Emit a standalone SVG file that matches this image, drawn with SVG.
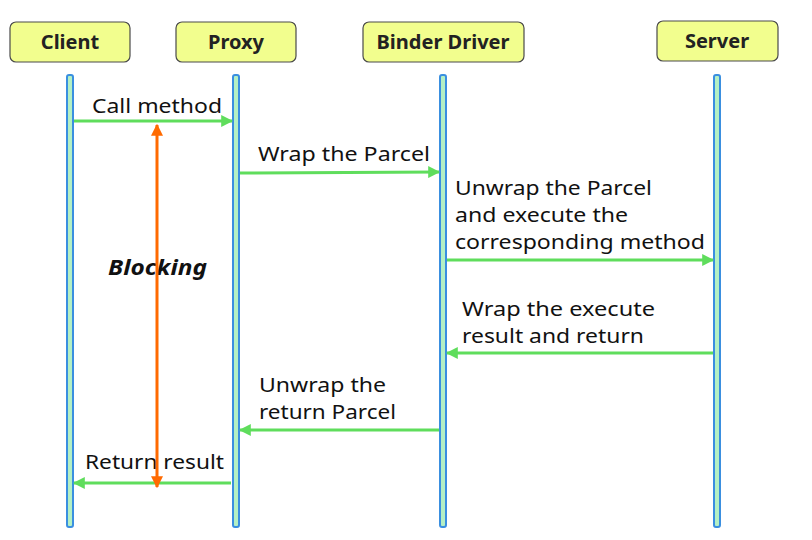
<svg xmlns="http://www.w3.org/2000/svg" width="812" height="540" viewBox="0 0 812 540">
<defs>
<style>
.box{fill:#f2fe8e;stroke:#4a4a4a;stroke-width:1.2}
.title{font-family:"Noto Sans","Liberation Sans",sans-serif;font-weight:bold;font-size:20px;fill:#222;text-anchor:middle}
.life{fill:#b4f0c4;stroke:#3a8fe0;stroke-width:2}
.msg{stroke:#5fdd5c;stroke-width:3;fill:none}
.lbl{font-family:"Noto Sans","Liberation Sans",sans-serif;font-size:20px;fill:#111}
</style>
<marker id="ga" viewBox="0 0 10 10" refX="9" refY="5" markerWidth="4" markerHeight="4" orient="auto" markerUnits="strokeWidth">
<path d="M0,0 L10,5 L0,10 Z" fill="#5fdd5c"/>
</marker>
<marker id="oa" viewBox="0 0 10 10" refX="9" refY="5" markerWidth="4" markerHeight="4.5" orient="auto-start-reverse" markerUnits="strokeWidth">
<path d="M0,0 L10,5 L0,10 Z" fill="#ff6a00"/>
</marker>
</defs>
<rect width="812" height="540" fill="#fff"/>

<g id="client">
<rect class="box" x="10" y="22" width="120" height="40" rx="6"/>
<text class="title" x="70" y="49">Client</text>
<rect class="life" x="67" y="75" width="6" height="452" rx="2"/>
</g>
<g id="proxy">
<rect class="box" x="176" y="22" width="120" height="40" rx="6"/>
<text class="title" x="236" y="49">Proxy</text>
<rect class="life" x="233" y="75" width="6" height="452" rx="2"/>
</g>
<g id="binder">
<rect class="box" x="363" y="22" width="161" height="40" rx="6"/>
<text class="title" x="443" y="49" textLength="133" lengthAdjust="spacingAndGlyphs">Binder Driver</text>
<rect class="life" x="440" y="75" width="6" height="452" rx="2"/>
</g>
<g id="server">
<rect class="box" x="657" y="21" width="121" height="40" rx="6"/>
<text class="title" x="717" y="48">Server</text>
<rect class="life" x="714" y="75" width="6" height="452" rx="2"/>
</g>

<g id="connectors">
<line class="msg" x1="74" y1="121" x2="232" y2="121" marker-end="url(#ga)"/>
<text class="lbl" x="92" y="113" textLength="130" lengthAdjust="spacingAndGlyphs">Call method</text>

<line class="msg" x1="240" y1="173" x2="439" y2="172" marker-end="url(#ga)"/>
<text class="lbl" x="258" y="161" textLength="172" lengthAdjust="spacingAndGlyphs">Wrap the Parcel</text>

<line class="msg" x1="447" y1="260" x2="713" y2="260" marker-end="url(#ga)"/>
<text class="lbl" x="455" y="195" textLength="197" lengthAdjust="spacingAndGlyphs">Unwrap the Parcel</text>
<text class="lbl" x="455" y="222" textLength="173" lengthAdjust="spacingAndGlyphs">and execute the</text>
<text class="lbl" x="455" y="249" textLength="250" lengthAdjust="spacingAndGlyphs">corresponding method</text>

<line class="msg" x1="713" y1="353" x2="447" y2="353" marker-end="url(#ga)"/>
<text class="lbl" x="462" y="316" textLength="193" lengthAdjust="spacingAndGlyphs">Wrap the execute</text>
<text class="lbl" x="462" y="343" textLength="182" lengthAdjust="spacingAndGlyphs">result and return</text>

<line class="msg" x1="439" y1="430" x2="240" y2="430" marker-end="url(#ga)"/>
<text class="lbl" x="259" y="392" textLength="127" lengthAdjust="spacingAndGlyphs">Unwrap the</text>
<text class="lbl" x="259" y="419" textLength="137" lengthAdjust="spacingAndGlyphs">return Parcel</text>

<line class="msg" x1="231" y1="483" x2="74" y2="483" marker-end="url(#ga)"/>
<text class="lbl" x="85" y="469" textLength="139" lengthAdjust="spacingAndGlyphs">Return result</text>

<text x="108" y="275" font-family="Noto Sans, Liberation Sans, sans-serif" font-size="21" font-weight="bold" font-style="italic" fill="#111" textLength="99" lengthAdjust="spacingAndGlyphs">Blocking</text>
<line x1="157" y1="125" x2="157" y2="487" stroke="#ff6a00" stroke-width="3" marker-start="url(#oa)" marker-end="url(#oa)"/>
</g>
</svg>
